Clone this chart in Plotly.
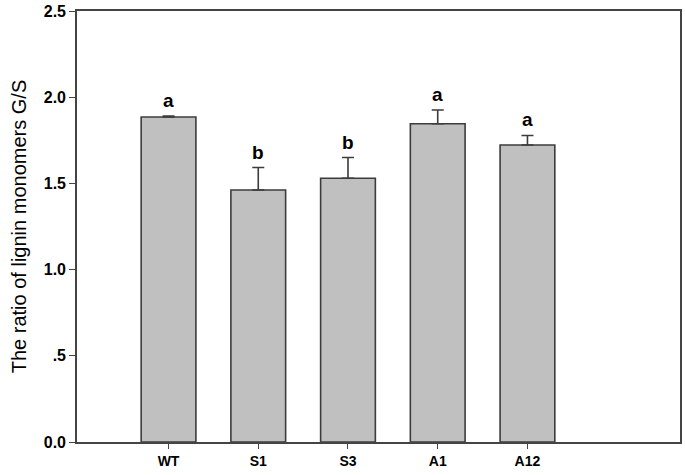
import plotly.graph_objects as go

lines = ['WT', 'S1', 'S3', 'A1', 'A12']
ratio = [1.885, 1.462, 1.530, 1.846, 1.723]
err = [0.006, 0.13, 0.12, 0.08, 0.055]
letters = ['a', 'b', 'b', 'a', 'a']

fig = go.Figure(go.Bar(
    x=lines, y=ratio, width=0.61,
    marker=dict(color='#c0c0c0', line=dict(color='#3c3c3c', width=1.6)),
    error_y=dict(type='data', array=err, symmetric=False, arrayminus=[0] * 5,
                 color='#3c3c3c', thickness=1.6, width=6),
))

for name, v, e, lab in zip(lines, ratio, err, letters):
    fig.add_annotation(x=name, y=v + e, text='<b>%s</b>' % lab, showarrow=False,
                       yanchor='bottom', yshift=3,
                       font=dict(family='Arial, Liberation Sans', size=19, color='black'))

fig.update_layout(
    width=685, height=475,
    margin=dict(l=77, r=3, t=10, b=33),
    plot_bgcolor='white', paper_bgcolor='white',
    showlegend=False,
    font=dict(family='Arial, Liberation Sans', color='black'),
)
fig.update_xaxes(
    range=[-1.02, 5.7], showline=True, linecolor='#444444', linewidth=1.6, mirror=True,
    ticks='outside', ticklen=5, tickcolor='#444444', showgrid=False,
    tickvals=lines, ticktext=['<b>%s</b>' % s for s in lines],
    tickfont=dict(size=14, color='black'),
)
fig.update_yaxes(
    range=[0, 2.5], tickvals=[0, 0.5, 1.0, 1.5, 2.0, 2.5],
    ticktext=['<b>0.0</b>', '<b>.5</b>', '<b>1.0</b>', '<b>1.5</b>', '<b>2.0</b>', '<b>2.5</b>'],
    showline=True, linecolor='#444444', linewidth=1.6, mirror=True,
    ticks='outside', ticklen=6, tickcolor='#444444', showgrid=False, zeroline=False,
    tickfont=dict(size=16, color='black'),
    title=dict(text='The ratio of lignin monomers G/S', font=dict(size=20), standoff=12),
)

# drop the default page margin so the figure sits at the window corner
fig.write_html('out.html', config={'displayModeBar': False},
               post_script="document.body.style.margin='0';")
